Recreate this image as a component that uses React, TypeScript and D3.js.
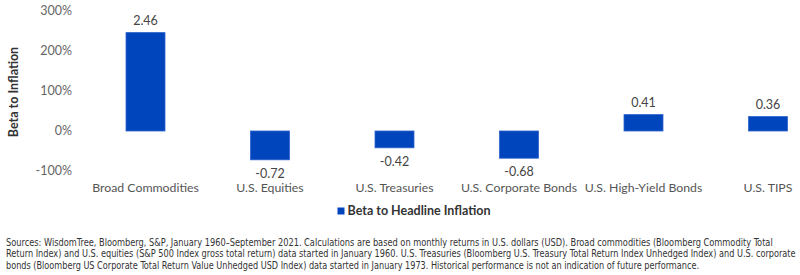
import { useEffect, useRef } from "react";
import * as d3 from "d3";

const categories = [
  "Broad Commodities",
  "U.S. Equities",
  "U.S. Treasuries",
  "U.S. Corporate Bonds",
  "U.S. High-Yield Bonds",
  "U.S. TIPS",
];
const betas = [2.46, -0.72, -0.42, -0.68, 0.41, 0.36];
const yTicks = [-1, 0, 1, 2, 3];
const seriesName = "Beta to Headline Inflation";
const axisTitle = "Beta to Inflation";
const footnote = [
  "Sources: WisdomTree, Bloomberg, S&P, January 1960–September 2021. Calculations are based on monthly returns in U.S. dollars (USD). Broad commodities (Bloomberg Commodity Total",
  "Return Index) and U.S. equities (S&P 500 Index gross total return) data started in January 1960. U.S. Treasuries (Bloomberg U.S. Treasury Total Return Index Unhedged Index) and U.S. corporate",
  "bonds (Bloomberg US Corporate Total Return Value Unhedged USD Index) data started in January 1973. Historical performance is not an indication of future performance.",
];
const footnoteWidths = [768, 791, 694];

const W = 800, H = 275;
const BLUE = "#0045BC";
const FONT = "Lato, 'Open Sans', sans-serif";

// plain hyphen for negatives
const locale = d3.formatLocale({ decimal: ".", thousands: ",", grouping: [3], currency: ["$", ""], minus: "-" });
const pct = locale.format(".0%");
const num = locale.format(".2f");

const BetaChart = () => {
  const svgRef = useRef<SVGSVGElement>(null);

  useEffect(() => {
    if (!svgRef.current) return;
    const svg = d3.select(svgRef.current);
    svg.selectAll("*").remove();

    const x = d3.scaleBand<string>()
      .domain(categories)
      .range([83.25, 830.25])
      .paddingInner(0.687)
      .paddingOuter(0.3435);
    const y = d3.scaleLinear().domain([-1, 3]).range([171, 11]);

    // y tick labels
    svg.append("g")
      .selectAll("text")
      .data(yTicks)
      .join("text")
      .attr("x", 72)
      .attr("y", (d) => y(d))
      .attr("dy", "0.35em")
      .attr("text-anchor", "end")
      .attr("font-family", FONT)
      .attr("font-size", 12.5)
      .attr("fill", "#666")
      .text((d) => pct(d));

    svg.append("text")
      .attr("transform", `translate(14,92) rotate(-90)`)
      .attr("text-anchor", "middle")
      .attr("dy", "0.35em")
      .attr("font-family", FONT)
      .attr("font-weight", 700)
      .attr("font-size", 12.5)
      .attr("fill", "#333")
      .text(axisTitle);

    // bars
    svg.append("g")
      .selectAll("rect")
      .data(betas)
      .join("rect")
      .attr("x", (_, i) => x(categories[i])!)
      .attr("width", x.bandwidth())
      .attr("y", (d) => y(Math.max(0, d)))
      .attr("height", (d) => Math.abs(y(d) - y(0)))
      .attr("fill", BLUE)
      .attr("stroke", "#2c62cc")
      .attr("stroke-width", 0.8);

    // value labels
    svg.append("g")
      .selectAll("text")
      .data(betas)
      .join("text")
      .attr("x", (_, i) => x(categories[i])! + x.bandwidth() / 2)
      .attr("y", (d) => (d >= 0 ? y(d) - 11.8 : y(d) + 13.6))
      .attr("dy", "0.35em")
      .attr("text-anchor", "middle")
      .attr("font-family", FONT)
      .attr("font-size", 12.5)
      .attr("fill", "#444")
      .text((d) => num(d));

    // category labels
    svg.append("g")
      .selectAll("text")
      .data(categories)
      .join("text")
      .attr("x", (d) => x(d)! + x.bandwidth() / 2)
      .attr("y", 187.5)
      .attr("dy", "0.35em")
      .attr("text-anchor", "middle")
      .attr("font-family", FONT)
      .attr("font-size", 12.3)
      .attr("fill", "#555")
      .text((d) => d);

    // legend
    const legend = svg.append("g");
    legend.append("rect")
      .attr("x", 337.5)
      .attr("y", 207.5)
      .attr("width", 7)
      .attr("height", 7)
      .attr("fill", BLUE);
    legend.append("text")
      .attr("x", 347.5)
      .attr("y", 211)
      .attr("dy", "0.35em")
      .attr("font-family", FONT)
      .attr("font-weight", 700)
      .attr("font-size", 12.5)
      .attr("fill", "#333")
      .text(seriesName);

    // sources note: narrow each line horizontally to its column width
    svg.append("g")
      .selectAll("text")
      .data(footnote)
      .join("text")
      .attr("x", 0)
      .attr("y", 0)
      .attr("dy", "0.35em")
      .attr("font-family", "'Liberation Sans Narrow', 'DejaVu Sans Condensed', sans-serif")
      .attr("font-size", 10)
      .attr("fill", "#333")
      .text((d) => d)
      .each(function (_, i) {
        const el = this as SVGTextElement;
        const natural = el.getComputedTextLength();
        const k = natural > 0 ? Math.min(1, footnoteWidths[i] / natural) : 1;
        d3.select(el).attr("transform", `translate(6,${242.7 + i * 11.2}) scale(${k},1)`);
      });
  }, []);

  return <svg ref={svgRef} width={W} height={H} style={{ display: "block" }} />;
};

export default function App() {
  return (
    <div style={{ position: "absolute", left: 0, top: 0, width: W, height: H, background: "#fff" }}>
      <BetaChart />
    </div>
  );
}
